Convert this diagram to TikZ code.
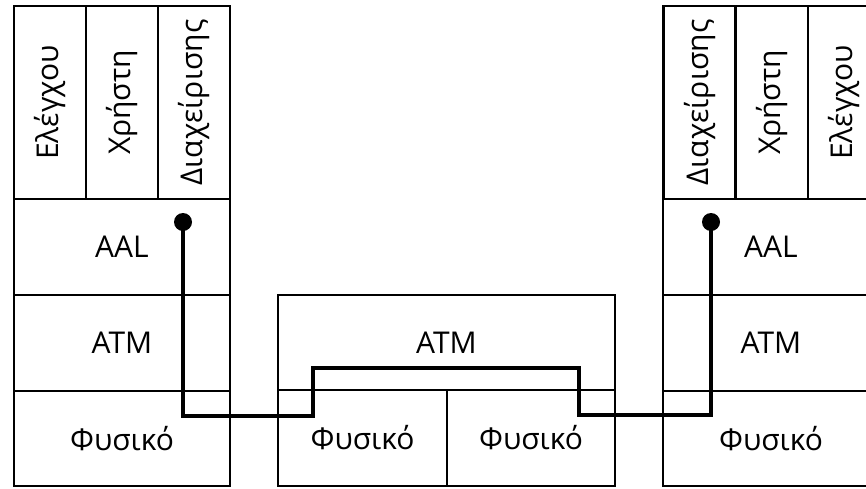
\documentclass[tikz,border=0pt]{standalone}
\usepackage{fontspec}
\setmainfont{Open Sans}

\begin{document}
\begin{tikzpicture}
[
	x=1pt,y=-1pt,
	layer/.style={draw,line width=2.2pt,inner sep=0pt,outer sep=0pt,minimum width=216pt,minimum height=96pt,font=\fontsize{30}{36}\selectfont},
	halfphys/.style={layer,minimum width=169pt},
	plane/.style={layer,rotate=90,minimum width=193pt,minimum height=72pt},
	link/.style={line width=4.8pt},
	dot/.style={circle,fill,inner sep=0pt,minimum size=18pt}
]

	\useasboundingbox (0,0) rectangle (866,488);
	\clip (0,0) rectangle (866,488);

	% left end station
	\node[plane] (ctlL) at (50,102.5) {Ελέγχου};
	\node[plane] (usrL) at (122,102.5) {Χρήστη};
	\node[plane] (mgtL) at (194,102.5) {Διαχείρισης};
	\node[layer] (aalL) at (122,247) {AAL};
	\node[layer] (atmL) at (122,343) {ATM};
	\node[layer,minimum height=95pt] (phyL) at (122,438.5) {Φυσικό};

	% switch
	\node[layer,minimum width=337pt,minimum height=95pt] (atmM) at (446.5,342.5) {ATM};
	\node[halfphys] (phyMa) at (362.5,438) {Φυσικό};
	\node[halfphys,minimum width=168pt] (phyMb) at (531,438) {Φυσικό};

	% right end station
	\node[plane] (mgtR) at (699.5,102.5) {Διαχείρισης};
	\node[plane] (usrR) at (772,102.5) {Χρήστη};
	\node[plane] (ctlR) at (844,102.5) {Ελέγχου};
	\node[layer] (aalR) at (771,247) {AAL};
	\node[layer] (atmR) at (771,343) {ATM};
	\node[layer,minimum height=95pt] (phyR) at (771,438.5) {Φυσικό};

	% management connection
	\node[dot] (srcL) at (183,222) {};
	\node[dot] (srcR) at (711,222) {};
	\draw[link] (srcL.center) |- (313,416) |- (579,368) |- (711,415) -- (srcR.center);

\end{tikzpicture}
\end{document}
